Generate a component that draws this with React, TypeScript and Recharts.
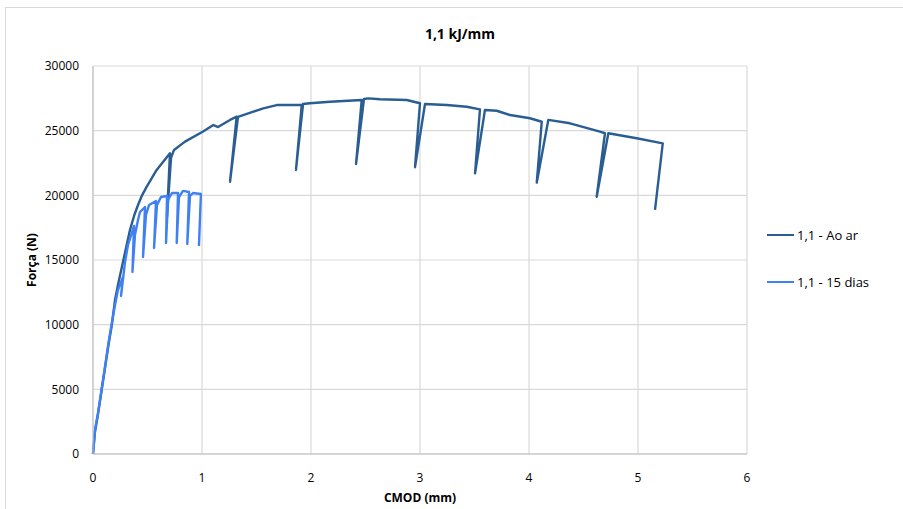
import { LineChart, Line, XAxis, YAxis, CartesianGrid, Label } from "recharts";

// CMOD (mm) vs força (N)
const aoArX = [
  0, 0.018, 0.046, 0.078, 0.11, 0.142, 0.174, 0.202, 0.229, 0.275, 0.339, 0.38, 0.413, 0.45, 0.493,
  0.584, 0.706, 0.679, 0.716, 0.743, 0.844, 1.006, 1.104, 1.147, 1.257, 1.318, 1.257, 1.33, 1.562,
  1.685, 1.915, 1.862, 1.927, 1.99, 2.174, 2.465, 2.413, 2.486, 2.526, 2.633, 2.878, 3.0, 2.954,
  3.046, 3.245, 3.428, 3.55, 3.505, 3.596, 3.704, 3.826, 4.009, 4.117, 4.071, 4.177, 4.376, 4.651,
  4.697, 4.621, 4.728, 4.988, 5.227, 5.156,
];
const aoArY = [
  0, 1700, 3090, 4870, 6650, 8430, 10050, 11910, 13070, 14850, 17320, 18500, 19250, 20000, 20670,
  21960, 23250, 18350, 22890, 23510, 24150, 24920, 25440, 25280, 25830, 26080, 21050, 26060, 26730,
  26980, 26980, 21960, 27060, 27120, 27240, 27370, 22420, 27450, 27500, 27430, 27370, 27120, 22170,
  27060, 26980, 26850, 26650, 21700, 26600, 26540, 26210, 25960, 25690, 20980, 25830, 25570, 24920,
  24800, 19890, 24800, 24410, 24020, 18870,
];

const dias15X = [
  0, 0.018, 0.046, 0.078, 0.11, 0.142, 0.174, 0.202, 0.229, 0.275, 0.257, 0.294, 0.321, 0.376,
  0.362, 0.385, 0.413, 0.431, 0.477, 0.459, 0.486, 0.514, 0.578, 0.56, 0.587, 0.624, 0.679, 0.67,
  0.688, 0.725, 0.78, 0.768, 0.789, 0.826, 0.881, 0.865, 0.89, 0.917, 0.99, 0.972,
];
const dias15Y = [
  0, 1856, 3170, 4950, 6730, 8580, 10200, 11520, 12680, 13690, 12220, 14850, 16160, 17630,
  14070, 16930, 18090, 18710, 19100, 15230, 18480, 19250, 19560, 15930, 19250, 19870, 19950, 16310,
  19640, 20180, 20180, 16310, 19870, 20340, 20260, 16240, 19950, 20180, 20100, 16080,
];

const xTicks = [0, 1, 2, 3, 4, 5, 6];
const yTicks = [0, 5000, 10000, 15000, 20000, 25000, 30000];

const aoAr = aoArX.map((x, i) => ({ x, y: aoArY[i] }));
const dias15 = dias15X.map((x, i) => ({ x, y: dias15Y[i] }));

const FONT = "'Open Sans', 'Noto Sans', sans-serif";
const DARK = "#2A5D92";
const LIGHT = "#3F80F5";

export default function App() {
  return (
    <div
      style={{
        position: "absolute",
        left: 0,
        top: 0,
        width: 903,
        height: 509,
        overflow: "hidden",
        background: "#fff",
        fontFamily: FONT,
      }}
    >
      {/* moldura do gráfico */}
      <div
        style={{
          position: "absolute",
          left: 5,
          top: 7,
          width: 920,
          height: 520,
          borderLeft: "1px solid #d9d9d9",
          borderTop: "1px solid #d9d9d9",
        }}
      />
      <div
        style={{
          position: "absolute",
          left: 0,
          width: 920,
          top: 24,
          textAlign: "center",
          fontSize: 14,
          fontWeight: 700,
          color: "#000",
        }}
      >
        1,1 kJ/mm
      </div>
      <div style={{ position: "absolute", left: 0, top: 0 }}>
        <LineChart
          width={903}
          height={509}
          margin={{ top: 66, right: 156, bottom: 25, left: 33 }}
        >
          <CartesianGrid stroke="#d9d9d9" strokeWidth={1.2} />
          <XAxis
            dataKey="x"
            type="number"
            domain={[0, 6]}
            ticks={xTicks}
            interval={0}
            height={30}
            tickLine={false}
            tickMargin={13}
            stroke="#bfbfbf"
            tick={{ fill: "#000", fontSize: 12, fontFamily: FONT }}
            allowDuplicatedCategory={false}
          >
            <Label
              value="CMOD (mm)"
              position="insideBottom"
              offset={-18}
              style={{ fontSize: 12, fontWeight: 700, fill: "#000", fontFamily: FONT }}
            />
          </XAxis>
          <YAxis
            dataKey="y"
            type="number"
            domain={[0, 30000]}
            ticks={yTicks}
            interval={0}
            width={60}
            tickLine={false}
            tickMargin={8}
            stroke="#bfbfbf"
            tick={{ fill: "#000", fontSize: 12, fontFamily: FONT }}
          >
            <Label
              value="Força (N)"
              angle={-90}
              position="insideLeft"
              offset={-1}
              style={{
                fontSize: 12,
                fontWeight: 700,
                fill: "#000",
                fontFamily: FONT,
                textAnchor: "middle",
              }}
            />
          </YAxis>
          <Line
            data={aoAr}
            dataKey="y"
            name="1,1 - Ao ar"
            stroke={DARK}
            strokeWidth={2.4}
            strokeLinejoin="round"
            dot={false}
            activeDot={false}
            isAnimationActive={false}
          />
          <Line
            data={dias15}
            dataKey="y"
            name="1,1 - 15 dias"
            stroke={LIGHT}
            strokeWidth={2.4}
            strokeLinejoin="round"
            dot={false}
            activeDot={false}
            isAnimationActive={false}
          />
        </LineChart>
      </div>
      {/* legenda */}
      {[
        { name: "1,1 - Ao ar", color: DARK, top: 235 },
        { name: "1,1 - 15 dias", color: LIGHT, top: 282 },
      ].map((item) => (
        <div
          key={item.name}
          style={{
            position: "absolute",
            left: 767,
            top: item.top - 10,
            height: 20,
            display: "flex",
            alignItems: "center",
            fontSize: 13,
            color: "#000",
          }}
        >
          <span
            style={{
              display: "inline-block",
              width: 27,
              height: 2,
              background: item.color,
              marginRight: 3,
            }}
          />
          {item.name}
        </div>
      ))}
    </div>
  );
}
